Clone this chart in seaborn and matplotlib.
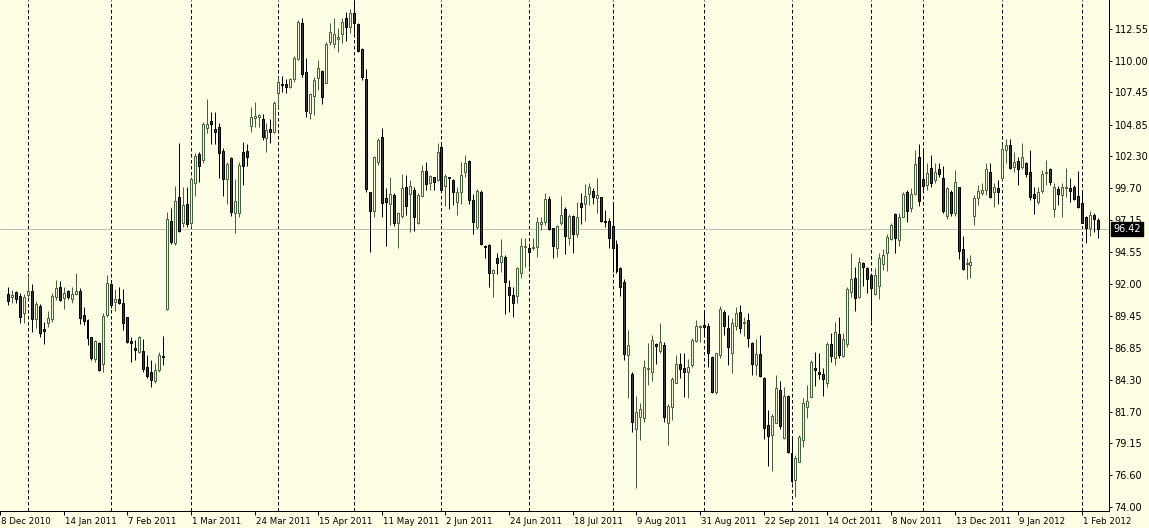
import numpy as np
import pandas as pd
import matplotlib
matplotlib.use('Agg')
import matplotlib.pyplot as plt
import matplotlib.transforms as mtransforms
import seaborn as sns

# ─────────────────────────────────────────────
# DATA (daily OHLC)
# ─────────────────────────────────────────────
opens = [
    91.20, 90.99, 91.33, 91.04, 89.70, 91.12, 91.44, 89.16, 90.23, 88.35,
    88.89, 89.16, 90.99, 91.79, 90.85, 91.44, 90.80, 91.20, 91.44, 89.51,
    89.11, 87.71, 85.94, 87.28, 85.53, 89.51, 92.01, 90.58, 90.77, 90.45,
    89.32, 87.39, 86.82, 86.55, 86.61, 85.34, 84.89, 84.19, 85.08, 86.23,
    89.97, 97.08, 95.28, 98.99, 96.95, 98.45,
    96.89, 100.17, 102.48, 102.00, 104.55, 105.14, 104.50, 104.63, 102.72, 100.44,
    102.13, 97.70, 97.70, 102.62, 102.72, 104.74, 105.35, 105.44, 105.30, 103.74,
    104.50, 104.28, 107.37, 108.10, 108.10, 107.85, 108.50, 110.11, 113.01, 109.06,
    105.76, 107.18, 108.58, 109.17, 108.23, 111.48, 111.34, 111.72, 112.15, 113.41,
    112.74, 113.82, 112.96, 110.91, 108.52, 99.39,
    97.88, 101.86, 103.82, 98.90, 98.42, 99.14, 96.89, 97.51, 99.79, 99.25,
    99.57, 96.89, 99.09, 101.10, 100.11, 100.59, 100.38, 103.01, 99.90, 100.59,
    100.38, 98.63, 99.39, 101.00, 101.91, 98.77, 96.62, 99.39, 95.06, 95.14,
    92.86, 94.07, 93.74, 94.20, 91.78, 91.11, 91.03, 92.86, 94.95, 94.87,
    94.87, 95.01, 96.83, 96.97, 98.85, 96.48, 94.87, 96.89,
    98.02, 95.68, 97.48, 96.00, 98.50, 98.44, 99.22, 99.52, 98.90, 98.98,
    97.08, 97.08, 96.67, 95.19, 93.26, 92.19, 86.28, 84.72, 80.29, 81.25,
    81.17, 85.15, 84.93, 87.16, 86.63, 87.08, 80.82, 82.11, 84.05, 85.55,
    85.20, 84.93, 85.47, 87.43, 88.51, 88.69, 88.61, 86.15, 83.32, 86.28,
    89.72, 88.43, 86.41, 88.64, 89.77,
    88.83, 89.11, 87.23, 85.48, 86.36, 84.46, 80.64, 79.84, 80.83, 83.46,
    79.57, 82.98, 78.36, 76.21, 77.69, 79.44, 82.12, 82.93, 85.21, 84.89,
    84.75, 84.00, 87.17, 86.02, 87.98, 86.23, 87.17, 91.39, 92.46, 90.99,
    93.67, 93.27, 92.73, 91.17, 91.85, 93.62, 94.48, 95.61, 97.65, 95.55,
    97.43, 99.39, 98.10, 99.26, 102.21, 100.44,
    99.98, 101.32, 100.38, 101.24, 100.52, 97.48, 99.44, 97.75, 99.79, 94.79,
    93.59, 93.53, 97.48, 98.90, 99.31, 99.58, 101.05, 99.39, 99.71, 100.52,
    102.80, 103.20, 101.46, 101.94, 101.40, 101.73, 101.05, 99.23, 98.64, 99.52,
    100.92, 101.24, 98.02, 99.63, 99.17, 99.71, 99.71, 99.79, 99.09, 98.50,
    97.37, 96.49, 97.56, 97.16,
]
highs = [
    91.74, 91.52, 91.47, 91.25, 91.20, 92.73, 92.00, 90.66, 90.40, 88.97,
    89.86, 91.25, 92.33, 92.28, 91.79, 91.52, 91.79, 92.87, 91.66, 90.18,
    89.16, 87.76, 87.49, 87.36, 89.64, 92.73, 92.06, 91.60, 91.79, 91.58,
    89.37, 87.76, 87.49, 87.82, 87.57, 86.28, 85.88, 85.61, 86.55, 87.82,
    97.84, 98.10, 99.90, 103.34, 99.85, 99.85,
    100.65, 102.53, 102.67, 105.09, 106.91, 105.84, 105.84, 104.95, 102.99, 101.86,
    102.27, 100.44, 101.86, 103.42, 103.26, 106.30, 106.70, 105.70, 105.70, 104.95,
    105.27, 106.78, 108.71, 108.77, 108.50, 108.58, 110.38, 113.28, 113.41, 110.19,
    107.37, 108.71, 110.06, 109.25, 111.53, 113.01, 113.41, 112.61, 113.41, 113.95,
    114.14, 114.85, 113.01, 110.99, 109.33, 99.45,
    102.31, 103.74, 104.54, 99.71, 100.59, 99.30, 97.83, 100.84, 100.78, 100.38,
    99.79, 99.30, 101.59, 101.80, 100.78, 100.65, 103.34, 103.34, 100.86, 100.62,
    100.43, 99.79, 101.86, 102.39, 101.99, 99.25, 99.63, 99.57, 95.14, 95.22,
    93.18, 94.47, 95.60, 94.34, 92.32, 91.73, 93.34, 95.68, 95.68, 95.28,
    95.68, 97.43, 97.43, 99.30, 99.09, 96.48, 96.75, 99.09,
    98.23, 97.64, 97.56, 98.63, 99.30, 100.06, 100.11, 99.71, 100.51, 99.03,
    97.96, 97.29, 98.50, 95.54, 93.34, 92.40, 88.29, 84.93, 82.97, 82.38,
    85.87, 87.27, 87.89, 87.27, 88.83, 87.35, 82.30, 84.53, 86.28, 86.41,
    86.47, 85.93, 87.62, 89.10, 88.69, 89.77, 88.83, 86.20, 86.47, 90.23,
    89.90, 89.50, 89.23, 90.17, 90.30,
    89.37, 89.70, 87.36, 87.55, 87.89, 84.49, 81.85, 81.53, 84.67, 84.22,
    83.73, 83.06, 79.70, 78.23, 79.84, 82.79, 83.87, 85.88, 86.55, 86.42,
    85.21, 87.36, 88.03, 88.92, 89.32, 88.03, 91.79, 94.48, 93.40, 94.16,
    93.80, 93.40, 92.87, 93.27, 94.48, 94.80, 96.03, 96.89, 97.75, 97.70,
    99.45, 99.58, 99.72, 102.80, 103.29, 102.86,
    101.73, 102.40, 101.73, 101.78, 101.51, 99.84, 99.58, 101.19, 99.84, 95.87,
    94.07, 94.34, 99.17, 99.98, 100.11, 101.73, 101.78, 100.11, 100.38, 103.28,
    103.66, 103.66, 102.66, 102.26, 103.34, 101.86, 102.80, 99.84, 99.84, 101.19,
    101.99, 101.32, 100.17, 99.90, 100.11, 101.32, 100.52, 99.98, 101.11, 99.44,
    97.48, 97.91, 97.70, 97.34,
]
lows = [
    90.31, 90.50, 90.45, 88.89, 88.89, 90.99, 88.17, 88.43, 87.71, 87.17,
    88.51, 88.97, 90.72, 90.64, 89.97, 90.77, 90.45, 91.12, 88.76, 88.70,
    87.09, 85.88, 85.75, 85.02, 84.94, 89.37, 90.05, 89.86, 90.40, 88.30,
    87.22, 85.75, 85.88, 86.42, 84.94, 84.41, 83.68, 84.00, 84.94, 85.48,
    89.91, 95.20, 95.15, 96.22, 96.63, 96.63,
    96.63, 99.12, 100.25, 101.73, 104.20, 103.26, 103.26, 100.52, 99.12, 98.45,
    97.48, 96.09, 97.38, 99.98, 101.51, 104.28, 104.63, 104.68, 103.61, 102.62,
    103.34, 104.15, 106.16, 107.50, 107.42, 107.77, 108.31, 110.06, 108.66, 105.43,
    105.30, 105.62, 107.64, 106.48, 108.18, 111.26, 111.00, 110.67, 111.40, 111.61,
    112.20, 112.20, 110.67, 108.44, 99.45, 94.56,
    97.37, 101.59, 97.37, 95.06, 96.75, 96.67, 94.87, 97.29, 97.56, 96.22,
    96.30, 96.84, 98.98, 99.57, 99.57, 99.57, 100.33, 99.44, 98.31, 98.02,
    98.36, 97.56, 98.45, 100.65, 98.45, 96.03, 96.43, 95.14, 94.07, 91.73,
    90.98, 92.81, 92.99, 89.58, 89.72, 89.37, 90.44, 92.46, 93.40, 93.34,
    94.74, 94.20, 96.35, 96.75, 96.35, 94.07, 94.20, 96.75,
    94.42, 95.14, 94.47, 95.81, 96.81, 97.10, 98.36, 98.42, 97.69, 97.02,
    96.62, 94.87, 92.99, 92.91, 91.03, 85.87, 82.78, 80.10, 75.53, 79.43,
    80.90, 83.86, 84.21, 85.55, 86.47, 80.90, 79.03, 81.04, 83.99, 84.40,
    82.87, 82.78, 85.34, 87.35, 87.35, 87.75, 85.28, 83.25, 83.13, 86.01,
    87.89, 85.47, 84.85, 88.29, 88.08,
    87.82, 86.96, 84.67, 84.67, 84.49, 79.49, 77.34, 76.97, 80.78, 80.30,
    79.52, 78.42, 75.94, 74.82, 77.64, 78.90, 81.18, 82.87, 83.81, 84.32,
    83.01, 83.68, 85.69, 85.48, 86.02, 86.15, 86.96, 90.93, 89.86, 90.85,
    91.87, 91.25, 89.05, 91.12, 90.77, 93.13, 93.08, 95.55, 94.48, 95.07,
    97.38, 97.03, 97.84, 99.18, 98.29, 99.58,
    99.58, 99.84, 100.11, 100.65, 97.70, 97.21, 97.48, 97.48, 93.99, 93.13,
    92.38, 92.46, 96.75, 98.37, 99.17, 99.17, 98.90, 98.18, 98.45, 100.38,
    101.73, 101.24, 101.05, 99.98, 101.24, 100.65, 98.77, 97.61, 98.45, 99.31,
    99.98, 99.98, 97.37, 98.37, 97.37, 99.04, 98.64, 98.77, 98.15, 96.89,
    95.33, 95.87, 96.22, 95.68,
]
closes = [
    90.66, 91.12, 90.80, 89.32, 90.99, 91.44, 89.16, 90.40, 88.09, 88.25,
    89.24, 91.07, 91.66, 90.72, 91.31, 90.93, 91.20, 91.44, 89.24, 89.05,
    87.63, 86.02, 87.41, 85.08, 89.43, 92.06, 90.31, 90.80, 90.45, 88.89,
    87.31, 87.28, 86.71, 87.71, 85.16, 84.62, 84.27, 85.08, 86.28, 86.10,
    97.22, 95.42, 98.69, 96.30, 98.37, 96.84,
    100.47, 102.35, 101.54, 104.90, 104.90, 104.87, 104.23, 102.53, 100.44, 101.68,
    97.83, 98.69, 101.59, 101.51, 102.21, 105.49, 105.54, 105.62, 103.82, 104.42,
    104.28, 106.56, 108.26, 108.04, 107.85, 108.50, 110.19, 113.14, 108.93, 105.97,
    107.29, 108.44, 109.38, 107.05, 111.34, 112.28, 112.15, 111.88, 113.09, 112.74,
    113.82, 113.01, 110.81, 108.66, 99.63, 97.91,
    102.21, 103.60, 98.50, 98.63, 99.22, 96.89, 97.69, 99.71, 98.31, 99.90,
    97.37, 99.17, 101.10, 100.03, 100.70, 100.22, 102.61, 99.57, 100.73, 100.51,
    99.39, 99.39, 100.78, 101.72, 98.77, 96.97, 99.49, 95.20, 95.01, 92.86,
    93.10, 93.66, 94.28, 92.13, 91.11, 90.50, 93.26, 95.06, 95.06, 94.60,
    95.01, 96.97, 96.97, 98.85, 96.43, 95.06, 96.67, 97.56,
    95.87, 97.48, 96.00, 97.37, 98.23, 99.09, 99.79, 98.98, 99.17, 97.10,
    96.97, 95.68, 94.87, 93.07, 91.78, 86.33, 87.08, 80.90, 81.66, 81.93,
    85.34, 85.26, 87.49, 87.03, 87.35, 81.25, 82.17, 84.32, 85.55, 85.12,
    84.88, 85.28, 87.49, 88.61, 88.61, 88.56, 86.47, 83.32, 86.41, 89.96,
    88.64, 86.89, 88.83, 89.64, 88.43,
    88.96, 87.68, 85.53, 86.36, 84.59, 80.38, 79.76, 81.40, 83.60, 80.59,
    82.98, 78.50, 76.16, 77.96, 79.70, 82.39, 82.58, 85.75, 85.10, 84.78,
    84.32, 87.17, 86.20, 88.11, 86.28, 87.55, 91.60, 92.41, 90.85, 93.75,
    93.35, 92.38, 91.66, 92.73, 94.07, 94.34, 95.82, 96.76, 95.69, 97.38,
    99.26, 97.89, 99.26, 101.68, 98.72, 99.90,
    100.97, 100.17, 101.05, 100.86, 97.91, 99.71, 97.75, 100.25, 94.69, 93.18,
    93.67, 93.75, 98.90, 99.49, 99.58, 101.24, 99.04, 99.79, 99.44, 102.85,
    103.20, 101.32, 101.81, 101.24, 102.21, 100.84, 98.98, 98.96, 99.44, 100.86,
    101.05, 100.25, 99.84, 99.23, 99.84, 99.79, 99.52, 98.82, 98.18, 96.94,
    96.49, 97.56, 97.21, 96.42,
]

date_labels = ['8 Dec 2010', '14 Jan 2011', '7 Feb 2011', '1 Mar 2011', '24 Mar 2011',
               '15 Apr 2011', '11 May 2011', '2 Jun 2011', '24 Jun 2011', '18 Jul 2011',
               '9 Aug 2011', '31 Aug 2011', '22 Sep 2011', '14 Oct 2011', '8 Nov 2011',
               '13 Dec 2011', '9 Jan 2012', '1 Feb 2012']
date_label_bars = [-2, 14, 30, 46, 62, 78, 94, 110, 126, 142, 158, 174, 190, 206, 222, 238, 254, 270]
month_start_bars = [5, 26, 46, 68, 87, 109, 131, 152, 175, 197, 217, 230, 250, 270]
price_ticks = [74.00, 76.60, 79.15, 81.70, 84.30, 86.85, 89.45, 92.00,
               94.55, 97.15, 99.70, 102.30, 104.85, 107.45, 110.00, 112.55]
last_price = 96.42

df = pd.DataFrame({'open': opens, 'high': highs, 'low': lows, 'close': closes})
df['bar'] = np.arange(len(df))
df['bull'] = df['close'] >= df['open']

# ─────────────────────────────────────────────
# STYLE
# ─────────────────────────────────────────────
BG = '#FFFFE6'
BULL_EDGE = '#44633A'
BULL_FILL = '#F3F5D8'
BEAR_EDGE = '#000000'
BEAR_FILL = '#3A3A3A'
LW = 0.72  # one pixel at 100 dpi

sns.set_theme(style='white', rc={'axes.facecolor': BG, 'figure.facecolor': BG,
                                 'axes.edgecolor': 'black', 'axes.linewidth': LW})
plt.rcParams['font.family'] = ['DejaVu Sans']

fig = plt.figure(figsize=(11.49, 5.28), dpi=100)
ax = fig.add_axes([0, 17 / 528, 1109 / 1149, 511 / 528])

# period separators and last price line
for b in month_start_bars:
    ax.axvline(b, color='black', lw=LW, linestyle=(0, (3.5, 2.5)), zorder=1)
ax.axhline(last_price, color='#BDBDBD', lw=LW, zorder=1)

# candles
for is_bull, grp in df.groupby('bull'):
    edge = BULL_EDGE if is_bull else BEAR_EDGE
    fill = BULL_FILL if is_bull else BEAR_FILL
    ax.vlines(grp['bar'], grp['low'], grp['high'], colors=edge, lw=LW, zorder=2)
    body_lo = grp[['open', 'close']].min(axis=1)
    body_h = (grp['close'] - grp['open']).abs()
    ax.bar(grp['bar'], body_h, bottom=body_lo, width=0.5, color=fill,
           edgecolor=edge, linewidth=LW, zorder=3)

ax.set_xlim(-0.425, 276.825)
ax.set_ylim(73.71, 114.89)

sns.despine(ax=ax, left=True, top=True, right=False, bottom=False)

# right price axis
ax.yaxis.tick_right()
ax.set_yticks(price_ticks)
ax.set_yticklabels([f'{v:.2f}' for v in price_ticks])
ax.tick_params(axis='y', left=False, right=True, labelleft=False, labelright=True,
               direction='out', length=2.5, width=LW, pad=1.5, labelsize=7, colors='black')

# bottom date axis, labels start just after their tick
ax.set_xticks(date_label_bars)
ax.set_xticklabels(date_labels)
ax.tick_params(axis='x', bottom=True, direction='out', length=3, width=LW, pad=1,
               labelsize=6.2, colors='black')
shift = mtransforms.ScaledTranslation(1 / 100, 0, fig.dpi_scale_trans)
for lbl in ax.get_xticklabels():
    lbl.set_horizontalalignment('left')
    lbl.set_transform(lbl.get_transform() + shift)

# last price box on the scale
box_tr = mtransforms.blended_transform_factory(ax.transAxes, ax.transData)
box_tr = box_tr + mtransforms.ScaledTranslation(4 / 100, 0, fig.dpi_scale_trans)
ax.text(1.0, last_price, f'{last_price:.2f}', transform=box_tr, ha='left', va='center',
        color='white', fontsize=7, clip_on=False, zorder=5,
        bbox=dict(boxstyle='square,pad=0.2', fc='black', ec='black'))

ax.set_xlabel('')
ax.set_ylabel('')

plt.savefig('out.png', dpi=100, facecolor=BG)
plt.close()
